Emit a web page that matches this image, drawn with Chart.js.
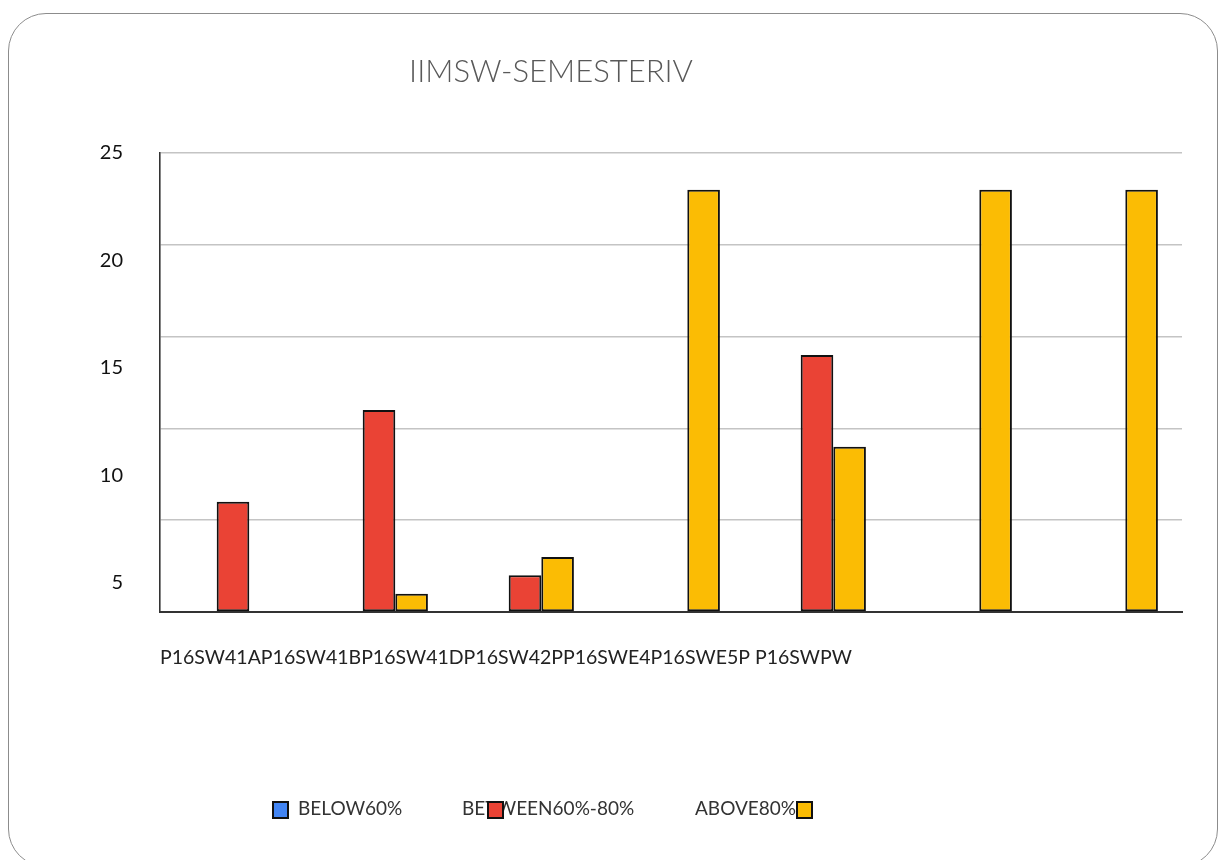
<!DOCTYPE html>
<html>
<head>
<meta charset="utf-8">
<script src="https://cdn.jsdelivr.net/npm/chart.js@4.4.1/dist/chart.umd.min.js"></script>
<style>
  html, body { margin: 0; padding: 0; background: #fff; }
  #wrap { position: relative; width: 1219px; height: 860px; overflow: hidden; }
  #frame {
    position: absolute; left: 8px; top: 13px; width: 1208px; height: 852px;
    border: 1.5px solid #8c8c8c; border-radius: 38px; pointer-events: none;
  }
</style>
</head>
<body>
<div id="wrap">
  <canvas id="bar-chart" width="1219" height="860"></canvas>
  <div id="frame"></div>
</div>
<script>
// chart values
var chartTitle = "IIMSW-SEMESTERIV";
var courses = ["P16SW41A", "P16SW41B", "P16SW41D", "P16SW42P", "P16SWE4", "P16SWE5P", "P16SWPW"];
var seriesNames = ["BELOW60%", "BETWEEN60%-80%", "ABOVE80%"];
var below60 = [0, 0, 0, 0, 0, 0, 0];
var between60to80 = [6, 11, 2, 0, 14, 0, 0];
var above80 = [0, 1, 3, 23, 9, 23, 23];
var yTicks = [5, 10, 15, 20, 25];

var FONT = "Lato, 'Liberation Sans', sans-serif";

// title and legend are drawn by hand, the original places them off-centre
var extras = {
  id: 'extras',
  afterDraw: function(chart) {
    var c = chart.ctx;
    c.save();
    c.font = "300 31px " + FONT;
    c.fillStyle = "#595959";
    c.textAlign = "center";
    c.textBaseline = "middle";
    c.fillText(chartTitle, 551, 72);

    var slots = [
      { text: 298, box: 273 },
      { text: 462, box: 488 },
      { text: 695, box: 797 }
    ];
    c.font = "19px " + FONT;
    c.textAlign = "left";
    chart.data.datasets.forEach(function(ds, i) {
      var s = slots[i];
      c.fillStyle = "#333";
      c.fillText(ds.label, s.text, 809);
      c.fillStyle = ds.backgroundColor;
      c.fillRect(s.box, 802, 15, 16);
      c.lineWidth = 2;
      c.strokeStyle = "#111";
      c.strokeRect(s.box, 802, 15, 16);
    });
    c.restore();
  }
};

var ctx = document.getElementById('bar-chart');
var myChart = new Chart(ctx, {
  type: 'bar',
  data: {
    labels: courses,
    datasets: [
      { label: seriesNames[0], data: below60, backgroundColor: "#4285F4" },
      { label: seriesNames[1], data: between60to80, backgroundColor: "#EA4335" },
      { label: seriesNames[2], data: above80, backgroundColor: "#FBBC04" }
    ]
  },
  plugins: [extras],
  options: {
    responsive: false,
    animation: false,
    layout: { padding: { top: 153, right: 37, left: 0, bottom: 0 } },
    datasets: {
      bar: {
        borderColor: "#111",
        borderWidth: 2,
        borderSkipped: false,
        categoryPercentage: 0.67,
        barPercentage: 1.0
      }
    },
    plugins: {
      legend: { display: false },
      title: { display: false },
      tooltip: { enabled: false }
    },
    scales: {
      x: {
        grid: { display: false },
        border: { display: true, color: "#333", width: 2 },
        ticks: { display: false },
        title: {
          display: true,
          align: 'start',
          text: courses.slice(0, 6).join('') + ' ' + courses[6],
          color: "#222",
          font: { family: FONT, size: 19.5 },
          padding: { top: 0, bottom: 191 }
        },
        afterFit: function(s) { s.height = 248; }
      },
      y: {
        min: 0,
        max: 25,
        ticks: { display: false, stepSize: 5 },
        grid: { color: "#c4c4c4", lineWidth: 1.5, drawTicks: false },
        border: { display: true, color: "#333", width: 1.6 },
        afterFit: function(s) { s.width = 0; }
      },
      yLabels: {
        position: 'left',
        weight: 1,
        min: 3.65,
        max: 25,
        grid: { display: false, drawTicks: false },
        border: { display: false },
        ticks: { color: "#111", padding: 37, font: { family: FONT, size: 20 } },
        afterBuildTicks: function(s) {
          s.ticks = yTicks.map(function(v) { return { value: v }; });
        },
        afterFit: function(s) { s.width = 160; }
      }
    }
  }
});
</script>
</body>
</html>
